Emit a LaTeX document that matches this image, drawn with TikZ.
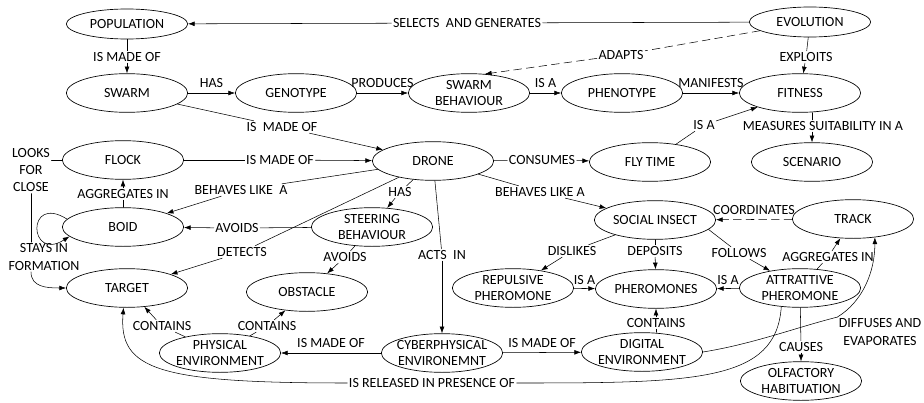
\documentclass[tikz,border=0pt]{standalone}
\usepackage{fontspec}
\setmainfont{Carlito}
\usetikzlibrary{shapes.geometric,arrows.meta}

\begin{document}
\begin{tikzpicture}[x=0.75pt,y=-0.75pt,line cap=round,line join=round,
  font=\fontsize{10.5}{12}\selectfont,
  concept/.style={ellipse,draw,line width=0.5pt,minimum width=91pt,minimum height=29pt,inner sep=-8pt,align=center},
  flat/.style={concept,minimum height=22.5pt},
  lnk/.style={inner sep=1pt,align=center,font=\fontsize{10.5}{13}\selectfont},
  arr/.style={-{Latex[length=5pt,width=3.6pt]}},
  dsh/.style={dash pattern=on 6pt off 3.5pt}]
  \useasboundingbox (0,0) rectangle (924,403);
  % 概念
  \node[flat] (pop) at (127,24) {POPULATION};
  \node[flat] (evo) at (810,22) {EVOLUTION};
  \node[concept] (swarm) at (127,93) {SWARM};
  \node[concept] (geno) at (296,93) {GENOTYPE};
  \node[concept] (swbeh) at (469,93) {SWARM\\BEHAVIOUR};
  \node[concept] (pheno) at (622,93) {PHENOTYPE};
  \node[concept] (fit) at (800,93) {FITNESS};
  \node[concept] (fly) at (650,162) {FLY TIME};
  \node[concept] (scen) at (812,162) {SCENARIO};
  \node[concept] (flock) at (123,160) {FLOCK};
  \node[concept] (drone) at (433,161) {DRONE};
  \node[concept] (boid) at (123,227) {BOID};
  \node[concept] (steer) at (372,227) {STEERING\\BEHAVIOUR};
  \node[concept] (social) at (655,220) {SOCIAL INSECT};
  \node[concept] (track) at (853,219) {TRACK};
  \node[concept] (target) at (127,288) {TARGET};
  \node[concept] (obst) at (307,292) {OBSTACLE};
  \node[concept] (repul) at (513,288) {REPULSIVE\\PHEROMONE};
  \node[concept] (pherom) at (656,289) {PHEROMONES};
  \node[concept] (attr) at (800,288) {ATTRATTIVE\\PHEROMONE};
  \node[concept] (phys) at (220,353) {PHYSICAL\\ENVIRONMENT};
  \node[concept] (cyber) at (442,353) {CYBERPHYSICAL\\ENVIRONEMNT};
  \node[concept] (digit) at (642,352) {DIGITAL\\ENVIRONMENT};
  \node[concept] (olf) at (801,381) {OLFACTORY\\HABITUATION};
  % 连接词
  \node[lnk] (lSel) at (467,23) {SELECTS\ \ AND GENERATES};
  \node[lnk] (lPopSw) at (127,57) {IS MADE OF};
  \node[lnk] (lAdapt) at (621,55) {ADAPTS};
  \node[lnk] (lExpl) at (806,57) {EXPLOITS};
  \node[lnk] (lSwDr) at (282,127) {IS\ \ MADE OF};
  \node[lnk] (lMeas) at (823,126) {MEASURES SUITABILITY IN A};
  \node[lnk] (lFlyIsA) at (704,125) {IS A};
  \node[lnk] (lFlDr) at (280,160) {IS MADE OF};
  \node[lnk] (lCons) at (542,160) {CONSUMES};
  \node[lnk] (lLooks) at (31,170) {LOOKS\\FOR\\CLOSE};
  \node[lnk] (lAggF) at (123,194) {AGGREGATES IN};
  \node[lnk] (lBehB) at (241,190) {BEHAVES LIKE\ \ A};
  \node[lnk] (lHasS) at (400,192) {HAS};
  \node[lnk] (lBehS) at (540,192) {BEHAVES LIKE A};
  \node[lnk] (lAvB) at (237,228) {AVOIDS};
  \node[lnk] (lDet) at (242,252) {DETECTS};
  \node[lnk] (lAvO) at (345,257) {AVOIDS};
  \node[lnk] (lActs) at (442,255) {ACTS\ \ IN};
  \node[lnk] (lStays) at (44,257) {STAYS IN\\FORMATION};
  \node[lnk] (lDisl) at (572,251) {DISLIKES};
  \node[lnk] (lDep) at (655,251) {DEPOSITS};
  \node[lnk] (lFoll) at (739,253) {FOLLOWS};
  \node[lnk] (lAggT) at (828,257) {AGGREGATES IN};
  \node[lnk] (lCont1) at (656,323) {CONTAINS};
  \node[lnk] (lCont2) at (162,326) {CONTAINS};
  \node[lnk] (lCont3) at (267,326) {CONTAINS};
  \node[lnk] (lDiff) at (880,332) {DIFFUSES AND\\EVAPORATES};
  \node[lnk] (lCaus) at (801,347) {CAUSES};
  \node[lnk] (lRel) at (432,383) {IS RELEASED IN PRESENCE OF};
  % 连线
  \draw (evo) -- (lSel); \draw[arr] (lSel) -- (pop);
  \draw (pop) -- (lPopSw); \draw[arr] (lPopSw) -- (swarm);
  \draw[arr] (swarm) -- node[lnk,above=2.5pt] (lHas) {HAS} (geno);
  \draw[arr] (geno) -- node[lnk,above=2.5pt] (lProd) {PRODUCES} (swbeh);
  \draw[arr] (swbeh) -- node[lnk,above=2.5pt] (lIsA) {IS A} (pheno);
  \draw[arr] (pheno) -- node[lnk,above=2.5pt] (lMan) {MANIFESTS} (fit);
  \draw[dsh] (evo) -- (lAdapt); \draw[dsh,arr] (lAdapt) -- (swbeh.50);
  \draw (evo) -- (lExpl); \draw[arr] (lExpl) -- (fit);
  \draw (swarm) -- (lSwDr); \draw[arr] (lSwDr) -- (drone);
  \draw (fit.south -| scen.north) -- (lMeas.north -| scen.north);
  \draw[arr] (lMeas.south -| scen.north) -- (scen);
  \draw (fly) -- (lFlyIsA); \draw[arr] (lFlyIsA) -- (fit);
  \draw (flock) -- (lFlDr); \draw[arr] (lFlDr) -- (drone);
  \draw (drone) -- (lCons); \draw[arr] (lCons) -- (fly);
  \draw (flock.west) -- (flock.west -| lLooks.east);
  \draw (lLooks) -- (lLooks |- lStays.north);
  \draw[arr] (lStays.south -| lLooks) .. controls +(0,15) and +(-20,0) .. (target.west);
  \draw[arr] (boid.172) .. controls +(-41,-26) and +(-41,26) .. (boid.190);
  \draw (boid) -- (lAggF); \draw[arr] (lAggF) -- (flock);
  \draw (drone) -- (lBehB); \draw[arr] (lBehB) -- (boid);
  \draw (drone) -- (lHasS); \draw[arr] (lHasS) -- (steer);
  \draw (steer) -- (lAvB); \draw[arr] (lAvB) -- (boid);
  \draw (drone) -- (lDet); \draw[arr] (lDet) -- (target);
  \draw (steer) -- (lAvO); \draw[arr] (lAvO) -- (obst);
  \draw (drone) -- (lActs); \draw[arr] (lActs) -- (cyber);
  \draw (drone) -- (lBehS); \draw[arr] (lBehS) -- (social);
  \draw[dsh,arr] (track) -- node[lnk,above=2.5pt] (lCoord) {COORDINATES} (social);
  \draw (social) -- (lDisl); \draw[arr] (lDisl) -- (repul);
  \draw (social) -- (lDep); \draw[arr] (lDep) -- (pherom);
  \draw (social.-10) -- (lFoll); \draw[arr] (lFoll) -- (attr);
  \draw (attr) -- (lAggT); \draw[arr] (lAggT) -- (track);
  \draw[arr] (repul) -- node[lnk,above=1.5pt] (lIsA2) {IS A} (pherom);
  \draw[arr] (attr) -- node[lnk,above=1.5pt] (lIsA3) {IS A} (pherom);
  \draw (lCont1 |- digit.north) -- (lCont1); \draw[arr] (lCont1) -- (pherom);
  \draw (attr) -- (lCaus); \draw[arr] (lCaus) -- (olf);
  \draw (digit.east) .. controls +(50,-8) and +(-40,10) .. (lDiff.north west);
  \draw[arr] (lDiff.north west) .. controls +(25,-15) and +(0,35) .. (track.-40);
  \draw (attr.-135) .. controls +(-5,75) and +(180,0) .. (lRel.east);
  \draw[arr] (lRel.west) .. controls +(-190,0) and +(-5,62) .. (target.-100);
  \draw (phys) -- (lCont2); \draw[arr] (lCont2) -- (target);
  \draw (phys) -- (lCont3); \draw[arr] (lCont3) -- (obst);
  \draw[arr] (cyber) -- node[lnk,above=2.5pt] (lMadeP) {IS MADE OF} (phys);
  \draw[arr] (cyber) -- node[lnk,above=2.5pt] (lMadeD) {IS MADE OF} (digit);
\end{tikzpicture}
\end{document}
